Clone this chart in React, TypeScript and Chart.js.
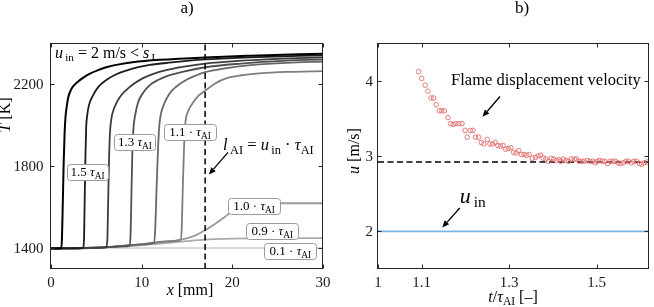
import { useEffect, useRef } from "react";
import { Chart, registerables } from "chart.js";

Chart.register(...registerables);

const SERIF = "'Liberation Serif', 'Times New Roman', Times, serif";
const INK = "#1a1a1a";

// ---------------- Panel a) : temperature profiles T(x) ----------------
const aXMin = 0;
const aXMax = 30;
const aYMin = 1300;
const aYMax = 2400;
const aXTicks = [0, 10, 20, 30];
const aXTickLabels = ["0", "10", "20", "30"];
const aYTicks = [1400, 1800, 2200];
const aYTickLabels = ["1400", "1800", "2200"];
const lAIx = 17; // ignition length l_AI [mm]

const c15X = [0, 0.9, 1.1, 1.2, 1.3, 1.4, 1.5, 1.6, 1.75, 1.9, 2.2, 2.5, 3.0, 3.6, 4.3, 5.2, 6.2, 7.5, 9, 12, 17, 22, 30];
const c15T = [1400, 1400, 1402, 1440, 1620, 1820, 1960, 2040, 2095, 2135, 2172, 2192, 2213, 2233, 2251, 2268, 2283, 2296, 2306, 2318, 2330, 2338, 2348];

const c14X = [0, 3.3, 3.55, 3.65, 3.72, 3.8, 3.88, 4.0, 4.2, 4.65, 5.2, 6.1, 7.2, 8.3, 9.5, 10.9, 13, 17, 22, 30];
const c14T = [1400, 1401, 1404, 1460, 1650, 1850, 1990, 2050, 2100, 2146, 2185, 2220, 2248, 2266, 2281, 2293, 2304, 2320, 2330, 2340];

const c13X = [0, 3, 5.5, 6.1, 6.22, 6.3, 6.4, 6.5, 6.65, 6.9, 7.2, 7.7, 8.3, 9.1, 10.1, 11.3, 12.7, 14.5, 17, 21, 25, 30];
const c13T = [1400, 1401, 1404, 1407, 1450, 1620, 1830, 1960, 2030, 2075, 2106, 2143, 2171, 2200, 2228, 2250, 2268, 2284, 2300, 2314, 2323, 2330];

const c12X = [0, 5, 8, 8.65, 8.78, 8.88, 8.98, 9.1, 9.25, 9.6, 10.2, 10.9, 11.8, 12.7, 14.5, 17, 21, 25, 30];
const c12T = [1400, 1403, 1410, 1414, 1470, 1680, 1880, 1990, 2040, 2110, 2160, 2195, 2220, 2238, 2260, 2282, 2300, 2312, 2320];

const c11X = [0, 6, 10, 11.35, 11.5, 11.65, 11.8, 11.95, 12.15, 12.5, 13.1, 13.8, 14.9, 16, 17, 19, 22, 26, 30];
const c11T = [1400, 1405, 1420, 1427, 1500, 1700, 1880, 2000, 2060, 2106, 2155, 2187, 2220, 2242, 2258, 2275, 2292, 2303, 2310];

const c105X = [0, 6, 10, 13, 14.3, 14.42, 14.55, 14.68, 14.82, 15.1, 15.6, 16.3, 17.1, 18.1, 19.3, 21, 23, 26, 30];
const c105T = [1400, 1406, 1420, 1435, 1442, 1500, 1720, 1900, 2010, 2065, 2106, 2145, 2171, 2203, 2228, 2243, 2252, 2259, 2263];

const c10X = [0, 4, 8, 11, 14, 16, 17, 18, 19, 20, 20.8, 21.5, 22.3, 30];
const c10T = [1400, 1403, 1413, 1425, 1440, 1465, 1490, 1517, 1548, 1582, 1605, 1615, 1620, 1620];

const c09X = [0, 4, 8, 12, 15, 17, 19, 22, 30];
const c09T = [1400, 1402, 1410, 1424, 1436, 1443, 1447, 1449, 1450];

const c01X = [0, 30];
const c01T = [1402, 1402];

// ---------------- Panel b) : velocities ----------------
const bXMin = 1;
const bXMax = 1.62;
const bYMin = 1.5;
const bYMax = 4.5;
const bXTicks = [1, 1.1, 1.3, 1.5];
const bXTickLabels = ["1", "1.1", "1.3", "1.5"];
const bYTicks = [2, 3, 4];
const bYTickLabels = ["2", "3", "4"];
const uIn = 2;
const uMean = 2.92;

const fdvT = [
  1.093, 1.1, 1.108, 1.114, 1.121, 1.127, 1.133, 1.14, 1.146, 1.152,
  1.16, 1.166, 1.172, 1.178, 1.185, 1.192, 1.199, 1.204, 1.211, 1.217,
  1.223, 1.23, 1.236, 1.242, 1.25, 1.256, 1.262, 1.268, 1.274, 1.28,
  1.286, 1.292, 1.298, 1.304, 1.31, 1.316, 1.322, 1.328, 1.334, 1.34,
  1.346, 1.353, 1.36, 1.366, 1.372, 1.378, 1.384, 1.39, 1.396, 1.402,
  1.408, 1.414, 1.418, 1.424, 1.43, 1.436, 1.442, 1.449, 1.454, 1.46,
  1.467, 1.472, 1.479, 1.485, 1.491, 1.497, 1.501, 1.507, 1.513, 1.519,
  1.525, 1.531, 1.537, 1.543, 1.549, 1.555, 1.561, 1.567, 1.573, 1.579,
  1.585, 1.591, 1.598, 1.603, 1.609, 1.616,
];
const fdvU = [
  4.12, 4.03, 3.94, 3.86, 3.77, 3.77, 3.68, 3.6, 3.6, 3.6,
  3.51, 3.43, 3.42, 3.43, 3.43, 3.43, 3.34, 3.25, 3.34, 3.34,
  3.25, 3.25, 3.18, 3.16, 3.22, 3.16, 3.16, 3.18, 3.14, 3.13,
  3.14, 3.09, 3.1, 3.11, 3.05, 3.04, 3.07, 3.02, 3.02, 3.01,
  3.02, 2.97, 2.98, 3.0, 3.01, 2.97, 2.96, 2.93, 2.97, 2.96,
  2.94, 2.95, 2.93, 2.96, 2.94, 2.93, 2.96, 2.96, 2.96, 2.93,
  2.93, 2.93, 2.94, 2.93, 2.93, 2.91, 2.93, 2.94, 2.93, 2.93,
  2.9, 2.93, 2.93, 2.93, 2.91, 2.9, 2.91, 2.93, 2.93, 2.91,
  2.93, 2.93, 2.9, 2.89, 2.91, 2.92,
];

// ---------------- helpers ----------------
type Seg = { t: string; s?: "i" | "sub" };

const pts = (xs: number[], ys: number[]) => xs.map((x, i) => ({ x, y: ys[i] }));

function fontOf(g: Seg, size: number, subRatio: number) {
  return g.s === "i" ? `italic ${size}px ${SERIF}` : g.s === "sub" ? `${size * subRatio}px ${SERIF}` : `${size}px ${SERIF}`;
}

function measureRich(ctx: CanvasRenderingContext2D, segs: Seg[], size: number, subRatio = 0.72) {
  let w = 0;
  segs.forEach((g) => {
    ctx.font = fontOf(g, size, subRatio);
    w += ctx.measureText(g.t).width;
  });
  return w;
}

function drawRich(ctx: CanvasRenderingContext2D, segs: Seg[], x: number, baseline: number, size: number, align: "left" | "center" | "right" = "center", subRatio = 0.72) {
  const ws = segs.map((g) => {
    ctx.font = fontOf(g, size, subRatio);
    return ctx.measureText(g.t).width;
  });
  const total = ws.reduce((a, b) => a + b, 0);
  let cx = align === "center" ? x - total / 2 : align === "right" ? x - total : x;
  ctx.textAlign = "left";
  ctx.textBaseline = "alphabetic";
  segs.forEach((g, i) => {
    ctx.font = fontOf(g, size, subRatio);
    ctx.fillText(g.t, cx, g.s === "sub" ? baseline + size * 0.2 : baseline);
    cx += ws[i];
  });
  return total;
}

function boxLabel(ctx: CanvasRenderingContext2D, segs: Seg[], cx: number, cy: number, size: number, pad = 7) {
  const w = Math.round(measureRich(ctx, segs, size) + pad);
  const h = 16;
  ctx.save();
  ctx.beginPath();
  const x0 = Math.round(cx - w / 2) + 0.5;
  const y0 = Math.round(cy - h / 2) + 0.5;
  if ((ctx as any).roundRect) (ctx as any).roundRect(x0, y0, w, h, 3);
  else ctx.rect(x0, y0, w, h);
  ctx.fillStyle = "#ffffff";
  ctx.fill();
  ctx.strokeStyle = "#9a9a9a";
  ctx.lineWidth = 1;
  ctx.stroke();
  ctx.fillStyle = "#000";
  drawRich(ctx, segs, cx, cy + 4, size, "center");
  ctx.restore();
}

function arrow(ctx: CanvasRenderingContext2D, x1: number, y1: number, x2: number, y2: number) {
  const ang = Math.atan2(y2 - y1, x2 - x1);
  const hl = 7;
  const hw = 3;
  const bx = x2 - hl * Math.cos(ang);
  const by = y2 - hl * Math.sin(ang);
  ctx.save();
  ctx.strokeStyle = "#000";
  ctx.fillStyle = "#000";
  ctx.lineWidth = 1.3;
  ctx.beginPath();
  ctx.moveTo(x1, y1);
  ctx.lineTo(bx, by);
  ctx.stroke();
  ctx.beginPath();
  ctx.moveTo(x2, y2);
  ctx.lineTo(bx + hw * Math.sin(ang), by - hw * Math.cos(ang));
  ctx.lineTo(bx - hw * Math.sin(ang), by + hw * Math.cos(ang));
  ctx.closePath();
  ctx.fill();
  ctx.restore();
}

function drawFrame(ctx: CanvasRenderingContext2D, ca: any, sx: any, sy: any, xt: number[], yt: number[]) {
  ctx.save();
  ctx.strokeStyle = "#262626";
  ctx.lineWidth = 1;
  const L = Math.round(ca.left) - 0.5;
  const R = Math.round(ca.right) - 0.5;
  const T = Math.round(ca.top) + 0.5;
  const B = Math.round(ca.bottom) - 0.5;
  ctx.strokeRect(L, T, R - L, B - T);
  const tl = 4;
  ctx.beginPath();
  xt.forEach((v) => {
    const p = Math.round(sx.getPixelForValue(v)) + 0.5;
    ctx.moveTo(p, B);
    ctx.lineTo(p, B - tl);
    ctx.moveTo(p, T);
    ctx.lineTo(p, T + tl);
  });
  yt.forEach((v) => {
    const p = Math.round(sy.getPixelForValue(v)) + 0.5;
    ctx.moveTo(L, p);
    ctx.lineTo(L + tl, p);
    ctx.moveTo(R, p);
    ctx.lineTo(R - tl, p);
  });
  ctx.stroke();
  ctx.restore();
}

function tickLabels(ctx: CanvasRenderingContext2D, ca: any, sx: any, sy: any, xt: number[], xl: string[], yt: number[], yl: string[], yGap: number) {
  ctx.save();
  ctx.fillStyle = INK;
  ctx.font = `15px ${SERIF}`;
  ctx.textBaseline = "alphabetic";
  ctx.textAlign = "center";
  xt.forEach((v, i) => ctx.fillText(xl[i], sx.getPixelForValue(v), ca.bottom + 18));
  ctx.textAlign = "right";
  yt.forEach((v, i) => ctx.fillText(yl[i], ca.left - yGap, sy.getPixelForValue(v) + 5));
  ctx.restore();
}

const tauAI: Seg[] = [{ t: "τ", s: "i" }, { t: "AI", s: "sub" }];
const TS = "\u2009"; // thin space

const plugA = {
  id: "decorA",
  afterDraw(chart: any) {
    const { ctx, chartArea: ca, scales } = chart;
    const sx = scales.x;
    const sy = scales.y;
    const X = (v: number) => sx.getPixelForValue(v);
    const Y = (v: number) => sy.getPixelForValue(v);
    drawFrame(ctx, ca, sx, sy, aXTicks, aYTicks);
    tickLabels(ctx, ca, sx, sy, aXTicks, aXTickLabels, aYTicks, aYTickLabels, 7.5);
    ctx.save();
    ctx.fillStyle = "#000";
    ctx.font = `17px ${SERIF}`;
    ctx.textAlign = "center";
    ctx.textBaseline = "alphabetic";
    ctx.fillText("a)", (ca.left + ca.right) / 2, 13);
    drawRich(ctx, [{ t: "x", s: "i" }, { t: " [mm]" }], (ca.left + ca.right) / 2 + 3, 295, 16, "center");
    ctx.save();
    ctx.translate(10, 115);
    ctx.rotate(-Math.PI / 2);
    drawRich(ctx, [{ t: "T", s: "i" }, { t: " [K]" }], 0, 0, 16, "center");
    ctx.restore();
    drawRich(ctx, [{ t: "u", s: "i" }, { t: TS + "in", s: "sub" }, { t: " = 2 m/s < " }, { t: "s", s: "i" }, { t: TS + "L", s: "sub" }], X(0.44), Y(2327), 16, "left", 0.7);
    drawRich(ctx, [{ t: "l", s: "i" }, { t: TS + "AI", s: "sub" }, { t: " = " }, { t: "u", s: "i" }, { t: TS + "in", s: "sub" }, { t: " · " }, { t: "τ", s: "i" }, { t: "AI", s: "sub" }], X(18.97), Y(1877), 16.5, "left", 0.75);
    arrow(ctx, X(19.52), Y(1868), X(17.42), Y(1760));
    boxLabel(ctx, [{ t: "1.5 " }, ...tauAI], X(4.03), Y(1770), 13);
    boxLabel(ctx, [{ t: "1.3 " }, ...tauAI], X(9.26), Y(1917), 13);
    boxLabel(ctx, [{ t: "1.1 · " }, ...tauAI], X(15.33), Y(1965), 13, 10);
    boxLabel(ctx, [{ t: "1.0 · " }, ...tauAI], X(22.4), Y(1606), 13, 10);
    boxLabel(ctx, [{ t: "0.9 · " }, ...tauAI], X(24.4), Y(1484), 13, 10);
    boxLabel(ctx, [{ t: "0.1 · " }, ...tauAI], X(26.4), Y(1386), 13, 10);
    ctx.restore();
  },
};

const plugB = {
  id: "decorB",
  afterDraw(chart: any) {
    const { ctx, chartArea: ca, scales } = chart;
    const sx = scales.x;
    const sy = scales.y;
    const X = (v: number) => sx.getPixelForValue(v);
    const Y = (v: number) => sy.getPixelForValue(v);
    drawFrame(ctx, ca, sx, sy, bXTicks, bYTicks);
    tickLabels(ctx, ca, sx, sy, bXTicks, bXTickLabels, bYTicks, bYTickLabels, 5);
    ctx.save();
    ctx.fillStyle = "#000";
    ctx.font = `17px ${SERIF}`;
    ctx.textAlign = "center";
    ctx.textBaseline = "alphabetic";
    ctx.fillText("b)", 192, 13);
    drawRich(ctx, [{ t: "t", s: "i" }, { t: "/" }, { t: "τ", s: "i" }, { t: "AI", s: "sub" }, { t: " [–]" }], 183, 302, 16, "center");
    ctx.save();
    ctx.translate(28.5, 151);
    ctx.rotate(-Math.PI / 2);
    drawRich(ctx, [{ t: "u", s: "i" }, { t: " [m/s]" }], 0, 0, 16, "center");
    ctx.restore();
    ctx.font = `16.5px ${SERIF}`;
    ctx.textAlign = "center";
    ctx.fillText("Flame displacement velocity", X(1.384), Y(3.943));
    arrow(ctx, X(1.279), Y(3.79), X(1.239), Y(3.52));
    drawRich(ctx, [{ t: "u", s: "i" }, { t: TS + "in", s: "sub" }], X(1.187), Y(2.38), 22, "left", 0.7);
    arrow(ctx, X(1.187), Y(2.31), X(1.147), Y(2.05));
    ctx.restore();
  },
};

function lineDs(xs: number[], ys: number[], color: string, order: number, width = 1.8) {
  return {
    data: pts(xs, ys),
    showLine: true,
    borderColor: color,
    borderWidth: width,
    pointRadius: 0,
    fill: false,
    cubicInterpolationMode: "monotone" as const,
    order,
  };
}

function baseOptions(xMin: number, xMax: number, yMin: number, yMax: number, yW: number, xH: number, padRight: number) {
  return {
    responsive: false,
    maintainAspectRatio: false,
    animation: false as const,
    devicePixelRatio: 1,
    layout: { padding: { top: 43, right: padRight, left: 0, bottom: 0 } },
    plugins: { legend: { display: false }, tooltip: { enabled: false }, title: { display: false } },
    events: [] as any[],
    scales: {
      x: {
        type: "linear" as const,
        min: xMin,
        max: xMax,
        grid: { display: false },
        border: { display: false },
        ticks: { display: false },
        afterFit: (s: any) => {
          s.height = xH;
        },
      },
      y: {
        type: "linear" as const,
        min: yMin,
        max: yMax,
        grid: { display: false },
        border: { display: false },
        ticks: { display: false },
        afterFit: (s: any) => {
          s.width = yW;
        },
      },
    },
  };
}

export default function App() {
  const refA = useRef<HTMLCanvasElement | null>(null);
  const refB = useRef<HTMLCanvasElement | null>(null);

  useEffect(() => {
    if (!refA.current || !refB.current) return;
    const chartA = new Chart(refA.current, {
      type: "scatter",
      data: {
        datasets: [
          { ...lineDs([lAIx, lAIx], [aYMin, aYMax], "#000", 0, 1.5), borderDash: [6, 3.5], cubicInterpolationMode: "default" as const },
          lineDs(c15X, c15T, "#000000", 1, 2),
          lineDs(c14X, c14T, "#1c1c1c", 2),
          lineDs(c13X, c13T, "#3c3c3c", 3),
          lineDs(c12X, c12T, "#505050", 4),
          lineDs(c11X, c11T, "#686868", 5),
          lineDs(c105X, c105T, "#7e7e7e", 6),
          lineDs(c10X, c10T, "#999999", 7),
          lineDs(c09X, c09T, "#ababab", 8),
          lineDs(c01X, c01T, "#dadada", 9, 2),
        ],
      },
      options: baseOptions(aXMin, aXMax, aYMin, aYMax, 51, 38, 17) as any,
      plugins: [plugA],
    });
    const chartB = new Chart(refB.current, {
      type: "scatter",
      data: {
        datasets: [
          {
            data: pts(fdvT, fdvU),
            showLine: false,
            pointRadius: 2.3,
            pointStyle: "circle",
            pointBorderWidth: 0.9,
            borderColor: "#e46c6c",
            backgroundColor: "rgba(0,0,0,0)",
            pointBackgroundColor: "rgba(0,0,0,0)",
            pointBorderColor: "#e46c6c",
            order: 0,
          },
          { ...lineDs([bXMin, bXMax], [uMean, uMean], "#000", 1, 1.4), borderDash: [6, 3.5], cubicInterpolationMode: "default" as const },
          { ...lineDs([bXMin, bXMax], [uIn, uIn], "#80b4e6", 2, 1.6), cubicInterpolationMode: "default" as const },
        ],
      },
      options: baseOptions(bXMin, bXMax, bYMin, bYMax, 48, 38, 1) as any,
      plugins: [plugB],
    });
    return () => {
      chartA.destroy();
      chartB.destroy();
    };
  }, []);

  return (
    <div style={{ position: "absolute", left: 0, top: 0, width: 654, height: 307, background: "#fff", overflow: "hidden" }}>
      <canvas ref={refA} width={340} height={307} style={{ position: "absolute", left: 0, top: 0, width: 340, height: 307 }} />
      <canvas ref={refB} width={324} height={307} style={{ position: "absolute", left: 330, top: 0, width: 324, height: 307 }} />
    </div>
  );
}
